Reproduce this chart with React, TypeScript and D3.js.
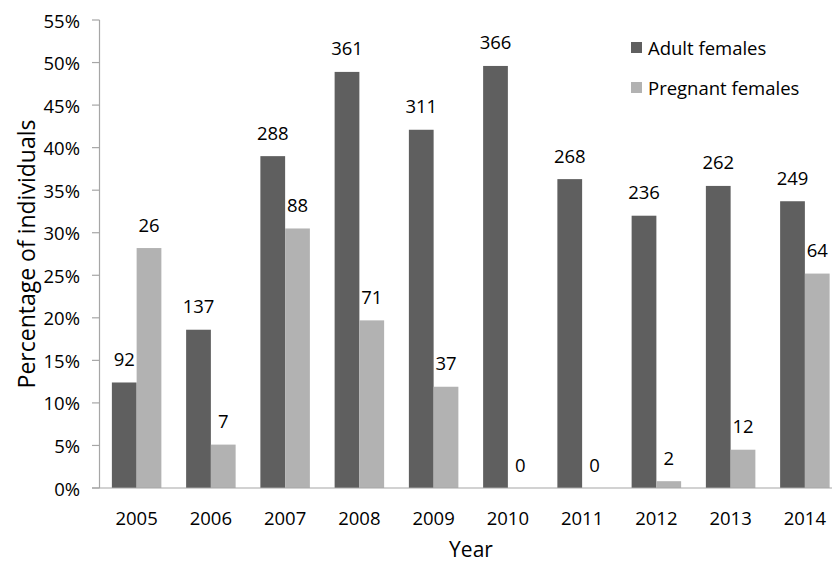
import React from "react";
import * as d3 from "d3";

const years = ["2005", "2006", "2007", "2008", "2009", "2010", "2011", "2012", "2013", "2014"];
const adultPct = [12.4, 18.6, 39.0, 48.9, 42.1, 49.6, 36.3, 32.0, 35.5, 33.7];
const pregnantPct = [28.2, 5.1, 30.5, 19.7, 11.9, 0, 0, 0.8, 4.5, 25.2];
const adultN = [92, 137, 288, 361, 311, 366, 268, 236, 262, 249];
const pregnantN = [26, 7, 88, 71, 37, 0, 0, 2, 12, 64];
const yTicks = [0, 5, 10, 15, 20, 25, 30, 35, 40, 45, 50, 55];
const seriesNames = ["Adult females", "Pregnant females"];
const colors = ["#5f5f5f", "#b2b2b2"];

const W = 832;
const H = 566;
const FONT = "'Open Sans', sans-serif";
const FS = 18.5;

export default function App() {
  const left = 99.5;
  const step = 74.25;
  const x = d3.scaleBand<string>().domain(years).range([left, left + step * years.length]).paddingInner(0).paddingOuter(0);
  const y = d3.scaleLinear().domain([0, 55]).range([488, 20]);
  const barW = step / 3;
  const series = [
    { name: seriesNames[0], pct: adultPct, n: adultN, color: colors[0] },
    { name: seriesNames[1], pct: pregnantPct, n: pregnantN, color: colors[1] },
  ];
  const sub = d3.scaleBand<number>().domain([0, 1]).range([0, barW * 2]);

  return (
    <svg width={W} height={H} style={{ position: "absolute", left: 0, top: 0, background: "#fff" }} fontFamily={FONT}>
      {series.map((s, si) =>
        years.map((yr, i) => {
          const cx = (x(yr) as number) + x.bandwidth() / 2;
          const bx = cx - barW + (sub(si) as number);
          const top = y(s.pct[i]);
          return (
            <g key={`${si}-${i}`}>
              {s.pct[i] > 0 && (
                <rect x={bx} y={top} width={barW} height={y(0) - top} fill={s.color} />
              )}
              <text x={bx + barW / 2} y={top - 24} textAnchor="middle" dominantBaseline="central" fontSize={FS} fill="#000">
                {s.n[i]}
              </text>
            </g>
          );
        })
      )}
      <line x1={left} x2={left} y1={y(55)} y2={y(0)} stroke="#a6a6a6" strokeWidth={1.2} />
      {yTicks.map((t) => (
        <g key={t}>
          <line x1={92} x2={left} y1={y(t)} y2={y(t)} stroke="#a6a6a6" strokeWidth={1.2} />
          <text x={80} y={y(t)} textAnchor="end" dominantBaseline="central" fontSize={FS} fill="#000">
            {t}%
          </text>
        </g>
      ))}
      <line x1={92} x2={W} y1={y(0)} y2={y(0)} stroke="#a6a6a6" strokeWidth={1.2} />
      {years.map((yr) => (
        <text key={yr} x={(x(yr) as number) + x.bandwidth() / 2} y={517} textAnchor="middle" dominantBaseline="central" fontSize={FS} fill="#000">
          {yr}
        </text>
      ))}
      <text x={471} y={549} textAnchor="middle" dominantBaseline="central" fontSize={21} fill="#000">
        Year
      </text>
      <text transform={`translate(26,${(y(0) + y(55)) / 2}) rotate(-90)`} textAnchor="middle" dominantBaseline="central" fontSize={23} fill="#000">
        Percentage of individuals
      </text>
      {series.map((s, i) => (
        <g key={s.name} transform={`translate(631,${42 + i * 40})`}>
          <rect x={0} y={0} width={11} height={11} fill={s.color} />
          <text x={17} y={5.5} dominantBaseline="central" fontSize={FS} fill="#000">
            {s.name}
          </text>
        </g>
      ))}
    </svg>
  );
}
